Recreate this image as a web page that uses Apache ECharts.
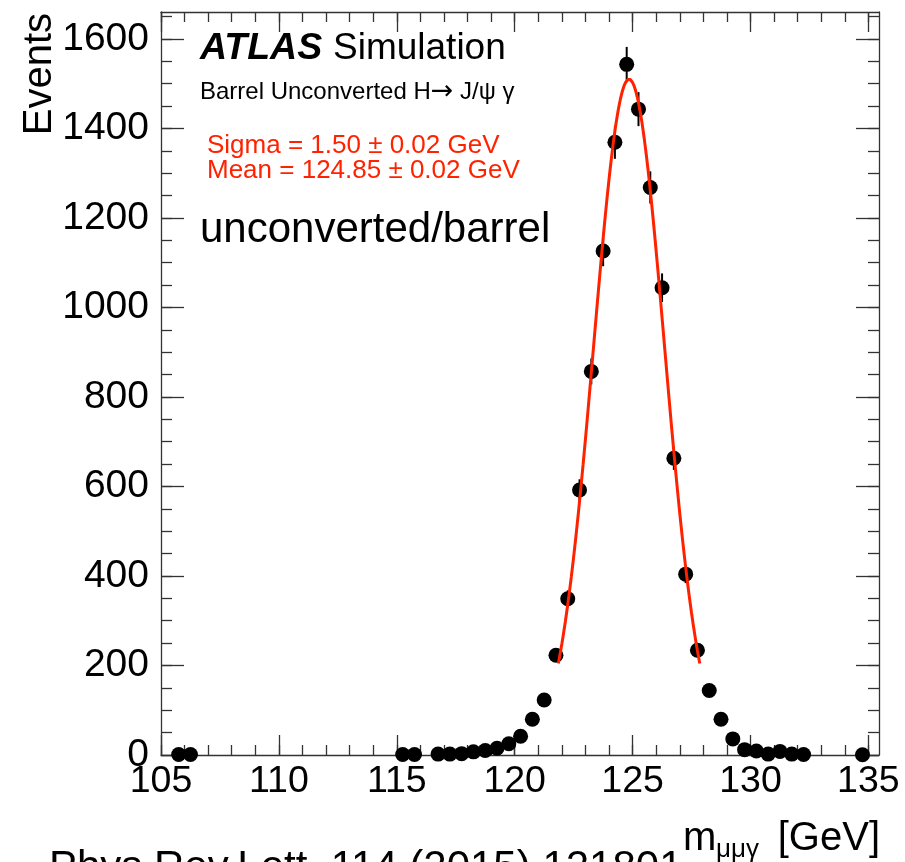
<!DOCTYPE html>
<html>
<head>
<meta charset="utf-8">
<title>H → J/ψ γ, barrel unconverted</title>
<script src="https://cdn.jsdelivr.net/npm/echarts@6/dist/echarts.min.js"></script>
<style>
  html, body { margin: 0; padding: 0; background: #fff; }
  #chart { width: 905px; height: 862px; }
</style>
</head>
<body>
<div id="chart"></div>
<script>
// Simulated m_μμγ distribution (0.5 GeV bins), events per bin
const binCenters = [
  105.75, 106.25, 115.25, 115.75, 116.75, 117.25, 117.75, 118.25, 118.75, 119.25,
  119.75, 120.25, 120.75, 121.25, 121.75, 122.25, 122.75, 123.25, 123.75, 124.25,
  124.75, 125.25, 125.75, 126.25, 126.75, 127.25, 127.75, 128.25, 128.75, 129.25,
  129.75, 130.25, 130.75, 131.25, 131.75, 132.25, 134.75
];
const events = [
  1, 1, 1, 1, 2, 2, 3, 7, 10, 15,
  25, 42, 80, 123, 223, 349, 592, 857, 1126, 1369,
  1543, 1443, 1268, 1044, 663, 404, 234, 144, 80, 36,
  12, 9, 2, 8, 2, 1, 0.5
];
const eventErrors = [
  1, 1, 1, 1, 1.4, 1.4, 1.7, 2.6, 3.2, 3.9,
  5, 6.5, 9, 11, 15, 19, 24, 29, 34, 37,
  39, 38, 36, 32, 26, 20, 15, 12, 9, 6,
  3.5, 3, 1.4, 2.8, 1.4, 1, 0.7
];

// Gaussian fit parameters
const fitMean = 124.85;
const fitSigma = 1.50;
const fitPeak = 1510;
const fitRange = [fitMean - 2 * fitSigma, fitMean + 2 * fitSigma];

// Axis ticks and labels
const xMajorTicks = [105, 110, 115, 120, 125, 130, 135];
const yMajorTicks = [0, 200, 400, 600, 800, 1000, 1200, 1400, 1600];
const xMinorTicks = [];
for (let v = 105; v <= 135; v += 1) xMinorTicks.push(v);
const yMinorTicks = [];
for (let v = 0; v <= 1650; v += 50) yMinorTicks.push(v);

const xRange = [105, 135.45];
const yRange = [0, 1660];

const pointData = binCenters.map((x, i) => [x, events[i]]);
const errorData = binCenters.map((x, i) => [x, events[i], eventErrors[i]]);

// fitted curve evaluated across the fit window
const fitCurve = [];
for (let i = 0; i <= 120; i++) {
  const x = fitRange[0] + (fitRange[1] - fitRange[0]) * i / 120;
  const d = (x - fitMean) / fitSigma;
  fitCurve.push([x, fitPeak * Math.exp(-0.5 * d * d)]);
}

const FONT = '"Liberation Sans", Arial, Helvetica, sans-serif';
const frameColor = '#333';
const fitColor = '#ff2200';

function plainNumber(v) { return String(v); }

function xAxisDef(position, ticks, len, labels) {
  return {
    type: 'value', position: position, min: xRange[0], max: xRange[1],
    axisLine: { show: len > 15, onZero: false, lineStyle: { color: frameColor, width: 1.3 } },
    axisTick: { show: true, inside: true, length: len, customValues: ticks, lineStyle: { color: frameColor, width: 1.3 } },
    axisLabel: labels ? {
      show: true, customValues: labels, margin: 8, color: '#000',
      fontFamily: FONT, fontSize: 37.5, formatter: plainNumber
    } : { show: false },
    splitLine: { show: false }
  };
}
function yAxisDef(position, ticks, len, labels) {
  return {
    type: 'value', position: position, min: yRange[0], max: yRange[1],
    axisLine: { show: len > 15, onZero: false, lineStyle: { color: frameColor, width: 1.3 } },
    axisTick: { show: true, inside: true, length: len, customValues: ticks, lineStyle: { color: frameColor, width: 1.3 } },
    axisLabel: labels ? {
      show: true, customValues: labels, margin: 12, color: '#000',
      fontFamily: FONT, fontSize: 39, formatter: plainNumber
    } : { show: false },
    splitLine: { show: false }
  };
}

const chart = echarts.init(document.getElementById('chart'), null, { renderer: 'canvas' });

chart.setOption({
  animation: false,
  backgroundColor: '#fff',
  grid: { left: 161, right: 26, top: 12, bottom: 107, containLabel: false, outerBoundsMode: 'none' },
  xAxis: [
    xAxisDef('bottom', xMajorTicks, 20, xMajorTicks),
    xAxisDef('bottom', xMinorTicks, 10, null),
    xAxisDef('top', xMajorTicks, 20, null),
    xAxisDef('top', xMinorTicks, 10, null)
  ],
  yAxis: [
    yAxisDef('left', yMajorTicks, 23, yMajorTicks),
    yAxisDef('left', yMinorTicks, 11, null),
    yAxisDef('right', yMajorTicks, 23, null),
    yAxisDef('right', yMinorTicks, 11, null)
  ],
  series: [
    {
      type: 'custom',
      name: 'errors',
      xAxisIndex: 0, yAxisIndex: 0,
      data: errorData,
      encode: { x: 0, y: 1 },
      z: 2,
      renderItem: function (params, api) {
        const x = api.value(0), y = api.value(1), e = api.value(2);
        const top = api.coord([x, y + e]);
        const bot = api.coord([x, y - e]);
        return {
          type: 'line',
          shape: { x1: top[0], y1: top[1], x2: bot[0], y2: bot[1] },
          style: { stroke: '#000', lineWidth: 2 }
        };
      }
    },
    {
      type: 'scatter',
      name: 'events',
      xAxisIndex: 0, yAxisIndex: 0,
      data: pointData,
      symbol: 'circle',
      symbolSize: 15,
      itemStyle: { color: '#000', opacity: 1 },
      emphasis: { disabled: true },
      z: 3
    },
    {
      type: 'line',
      name: 'fit',
      xAxisIndex: 0, yAxisIndex: 0,
      data: fitCurve,
      showSymbol: false,
      symbol: 'none',
      lineStyle: { color: fitColor, width: 3 },
      z: 4
    }
  ],
  graphic: [
    { type: 'text', x: 40, y: 13, rotation: Math.PI / 2,
      style: { text: 'Events', font: '40px ' + FONT, fill: '#000', align: 'right', verticalAlign: 'middle' } },
    { type: 'text', x: 200, y: 49,
      style: { text: 'ATLAS', font: 'italic bold 37.5px ' + FONT, fill: '#000', align: 'left', verticalAlign: 'middle' } },
    { type: 'text', x: 333, y: 49,
      style: { text: 'Simulation', font: '37px ' + FONT, fill: '#000', align: 'left', verticalAlign: 'middle' } },
    { type: 'text', x: 200, y: 92,
      style: {
        text: '{a|Barrel Unconverted H}{b|\u2192}{a| J/\u03C8 \u03B3}',
        fill: '#000', align: 'left', verticalAlign: 'middle',
        rich: {
          a: { fontFamily: FONT, fontSize: 24, fill: '#000' },
          b: { fontFamily: '"DejaVu Sans", sans-serif', fontSize: 27, fill: '#000' }
        }
      } },
    { type: 'text', x: 207, y: 146,
      style: { text: 'Sigma = 1.50 \u00B1 0.02 GeV', font: '26px ' + FONT, fill: fitColor, align: 'left', verticalAlign: 'middle' } },
    { type: 'text', x: 207, y: 171,
      style: { text: 'Mean = 124.85 \u00B1 0.02 GeV', font: '26px ' + FONT, fill: fitColor, align: 'left', verticalAlign: 'middle' } },
    { type: 'text', x: 200, y: 230.5,
      style: { text: 'unconverted/barrel', font: '42px ' + FONT, fill: '#000', align: 'left', verticalAlign: 'middle' } },
    { type: 'text', x: 683, y: 839,
      style: { text: 'm', font: '40px ' + FONT, fill: '#000', align: 'left', verticalAlign: 'middle' } },
    { type: 'text', x: 716, y: 850,
      style: { text: '\u03BC\u03BC\u03B3', font: '26px ' + FONT, fill: '#000', align: 'left', verticalAlign: 'middle' } },
    { type: 'text', x: 880, y: 839,
      style: { text: '[GeV]', font: '40px ' + FONT, fill: '#000', align: 'right', verticalAlign: 'middle' } },
    { type: 'text', x: 49, y: 868,
      style: { text: 'Phys.Rev.Lett. 114 (2015) 121801', font: '42px ' + FONT, fill: '#000', align: 'left', verticalAlign: 'middle' } }
  ]
});
</script>
</body>
</html>
